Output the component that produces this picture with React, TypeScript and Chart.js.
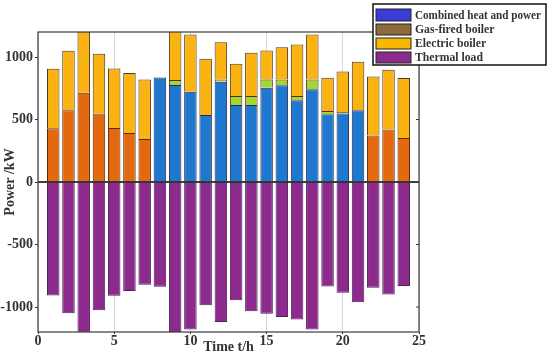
import React, { useEffect, useRef } from "react";
import { Chart, registerables } from "chart.js";

Chart.register(...registerables);

const hours = [1, 2, 3, 4, 5, 6, 7, 8, 9, 10, 11, 12, 13, 14, 15, 16, 17, 18, 19, 20, 21, 22, 23, 24];
const chp = [0, 0, 0, 0, 0, 0, 0, 837, 777, 723, 537, 803, 616, 616, 755, 774, 654, 742, 542, 548, 574, 0, 0, 0];
const gasBoiler = [430, 574, 715, 548, 433, 393, 345, 0, 40, 0, 0, 18, 72, 72, 66, 47, 34, 79, 27, 13, 0, 372, 420, 353];
const electricBoiler = [477, 476, 490, 478, 476, 479, 476, 0, 420, 457, 449, 298, 258, 346, 232, 258, 412, 359, 266, 324, 388, 473, 479, 479];
const thermalLoad = [-907, -1050, -1205, -1026, -909, -872, -821, -837, -1237, -1180, -986, -1119, -946, -1034, -1053, -1079, -1100, -1180, -835, -885, -962, -845, -899, -832];
const yTicks = [-1000, -500, 0, 500, 1000];
const legendLabels = ["Combined heat and power", "Gas-fired boiler", "Electric boiler", "Thermal load"];
const legendColors = ["#3b3bd8", "#8b6a3c", "#f6b800", "#8a2c8c"];

const FONT = "'Liberation Serif', 'Times New Roman', serif";

export default function App() {
  const ref = useRef<HTMLCanvasElement>(null);
  useEffect(() => {
    const canvas = ref.current!;
    const gasColors = hours.map((_, i) => (i < 7 || i > 20 ? "#e4680e" : "#a2d630"));
    const bw = (c: any) => (c.raw === 0 ? 0 : 1);
    const framePlugin = {
      id: "frame",
      afterDatasetsDraw(chart: any) {
        const { ctx, chartArea: a, scales } = chart;
        ctx.save();
        const y0 = scales.y.getPixelForValue(0);
        ctx.strokeStyle = "#000";
        ctx.lineWidth = 1.5;
        ctx.beginPath();
        ctx.moveTo(a.left, y0);
        ctx.lineTo(a.right, y0);
        ctx.stroke();
        ctx.strokeStyle = "#3a3a3a";
        ctx.lineWidth = 1.2;
        ctx.strokeRect(a.left, a.top, a.right - a.left, a.bottom - a.top);
        ctx.lineWidth = 1;
        yTicks.forEach((v) => {
          const y = scales.y.getPixelForValue(v);
          ctx.beginPath();
          ctx.moveTo(a.right, y);
          ctx.lineTo(a.right - 3, y);
          ctx.stroke();
        });
        ctx.restore();
      },
      afterDraw(chart: any) {
        const { ctx } = chart;
        ctx.save();
        ctx.fillStyle = "#fff";
        ctx.fillRect(373, 4, 173, 61);
        ctx.strokeStyle = "#111";
        ctx.lineWidth = 1.5;
        ctx.strokeRect(373, 4, 173, 61);
        const rows = [[9, 21], [24, 35], [38, 49], [52, 63]];
        ctx.font = `bold 13px ${FONT}`;
        ctx.textBaseline = "middle";
        rows.forEach(([t, b], i) => {
          ctx.fillStyle = legendColors[i];
          ctx.fillRect(376, t, 35, b - t);
          ctx.strokeStyle = "#222";
          ctx.lineWidth = 1;
          ctx.strokeRect(376, t, 35, b - t);
          ctx.fillStyle = "#333";
          const w = ctx.measureText(legendLabels[i]).width;
          ctx.fillText(legendLabels[i], 415, (t + b) / 2 + 0.5, Math.min(w * 0.9, 126));
        });
        ctx.restore();
      },
    };
    const chart = new Chart(canvas, {
      type: "bar",
      data: {
        labels: hours,
        datasets: [
          { label: legendLabels[0], data: chp, backgroundColor: "#1f78cf", borderColor: "#2a2a50", borderWidth: bw },
          { label: legendLabels[1], data: gasBoiler, backgroundColor: gasColors, borderColor: "#5a2a10", borderWidth: bw },
          { label: legendLabels[2], data: electricBoiler, backgroundColor: "#fbb312", borderColor: "#4a3a20", borderWidth: bw },
          { label: legendLabels[3], data: thermalLoad, backgroundColor: "#8c2b8c", borderColor: "#4a2060", borderWidth: bw },
        ] as any,
      },
      options: {
        responsive: false,
        animation: false,
        layout: { padding: { top: 32, right: 131, left: 0, bottom: 0 } },
        datasets: { bar: { barPercentage: 0.82, categoryPercentage: 1 } },
        plugins: { legend: { display: false }, tooltip: { enabled: false } },
        scales: {
          x: {
            type: "linear",
            stacked: true,
            offset: false,
            min: 0,
            max: 25,
            afterFit: (s: any) => {
              s.height = 27;
            },
            ticks: {
              stepSize: 5,
              padding: 0,
              color: "#333",
              callback: (v: any) => String(v),
              font: { family: FONT, weight: "bold", size: 14, lineHeight: 1 },
            },
            grid: { color: "#d8d8d8", tickColor: "#333", tickLength: 2, offset: false },
            border: { display: false },
            title: {
              display: true,
              text: "Time t/h",
              color: "#333",
              font: { family: FONT, weight: "bold", size: 14 },
              padding: { top: 0, bottom: 3 },
            },
          },
          y: {
            stacked: true,
            min: -1200,
            max: 1200,
            afterFit: (s: any) => {
              s.width = 38;
            },
            afterBuildTicks: (s: any) => {
              s.ticks = yTicks.map((v) => ({ value: v }));
            },
            ticks: {
              padding: 2,
              color: "#333",
              callback: (v: any) => String(v),
              font: { family: FONT, weight: "bold", size: 14 },
            },
            grid: { color: "rgba(0,0,0,0)", tickColor: "#333", tickLength: 3 },
            border: { display: false },
            title: {
              display: true,
              text: "Power /kW",
              color: "#333",
              font: { family: FONT, weight: "bold", size: 14 },
              padding: { top: 2, bottom: 0 },
            },
          },
        },
      },
      plugins: [framePlugin],
    });
    return () => chart.destroy();
  }, []);
  return (
    <canvas
      ref={ref}
      width={550}
      height={359}
      style={{ position: "absolute", left: 0, top: 0, width: 550, height: 359 }}
    />
  );
}
